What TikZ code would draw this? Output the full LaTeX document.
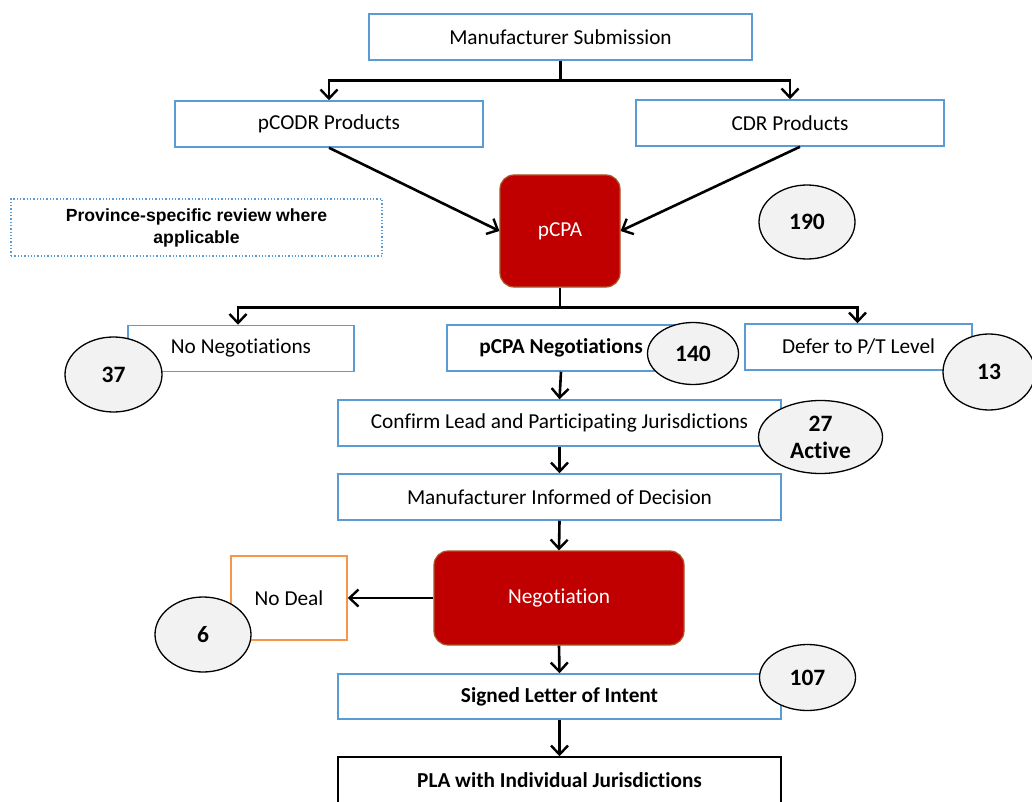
\documentclass[tikz,border=0pt]{standalone}
\usepackage{fontspec}
\setmainfont{Carlito}[Ligatures=NoCommon]
\newfontfamily\arialfont{Liberation Sans}
\usetikzlibrary{arrows.meta,shapes.geometric,calc}
\definecolor{boxblue}{RGB}{91,155,213}
\definecolor{darkred}{RGB}{192,0,0}
\definecolor{redborder}{RGB}{170,85,40}
\definecolor{ellfill}{RGB}{242,242,242}
\definecolor{dealorange}{RGB}{247,150,70}
\tikzset{
  bluebox/.style={draw=boxblue,line width=1.5pt,fill=white,rectangle,inner sep=0pt,
    font=\fontsize{21.3}{25}\selectfont},
  redbox/.style={draw=redborder,line width=1.2pt,fill=darkred,rectangle,rounded corners=14pt,
    inner sep=0pt,text=white,font=\fontsize{21.3}{25}\selectfont},
  countell/.style={draw=black,line width=1.3pt,fill=ellfill,ellipse,inner sep=0pt,
    font=\bfseries\fontsize{23.5}{25}\selectfont,align=center},
  conn/.style={line width=2.6pt,black},
  arr/.style={conn,-{Straight Barb[length=9pt,width=17pt,line width=2.4pt]}},
}
\begin{document}
\begin{tikzpicture}[x=1pt,y=-1pt]
\clip (0,0) rectangle (1032,802);
\fill[white] (0,0) rectangle (1032,802);
% boxes
\node[bluebox,minimum width=383pt,minimum height=46pt] (ms) at (560.5,37) {Manufacturer Submission};
\node[bluebox,minimum width=308pt,minimum height=46pt] (pcodr) at (329,124) {pCODR Products};
\node[bluebox,minimum width=308pt,minimum height=46pt] (cdr) at (790,123) {CDR Products};
\node[draw=boxblue,line width=1.3pt,dotted,rectangle,minimum width=371pt,minimum height=57pt,
  inner sep=0pt,align=center,font=\arialfont\bfseries\fontsize{17.6}{22}\selectfont] (prov) at (196.5,227.5)
  {Province-specific review where\\applicable};
\node[redbox,minimum width=120pt,minimum height=112pt] (pcpa) at (560,231) {pCPA};
\node[bluebox,minimum width=226pt,minimum height=46pt] (nn) at (241,348.5) {No Negotiations};
\node[bluebox,minimum width=228pt,minimum height=46pt,font=\bfseries\fontsize{21.3}{25}\selectfont]
  (pn) at (561,348) {pCPA Negotiations};
\node[bluebox,minimum width=227pt,minimum height=46pt] (defer) at (858.5,347) {Defer to P/T Level};
\node[bluebox,minimum width=443pt,minimum height=46pt] (conf) at (559.5,423) {Confirm Lead and Participating Jurisdictions};
\node[bluebox,minimum width=443pt,minimum height=46pt] (inf) at (559.5,497) {Manufacturer Informed of Decision};
\node[redbox,minimum width=250pt,minimum height=94pt] (neg) at (559,598) {Negotiation};
\node[draw=dealorange,line width=1.5pt,fill=white,rectangle,minimum width=116pt,minimum height=84pt,
  inner sep=0pt,font=\fontsize{21.3}{25}\selectfont] (nodeal) at (289,598) {No Deal};
\node[bluebox,minimum width=443pt,minimum height=45pt,font=\bfseries\fontsize{21.3}{25}\selectfont] (sig) at (559.5,696.5) {Signed Letter of Intent};
\node[draw=black,line width=1.5pt,fill=white,rectangle,minimum width=443pt,minimum height=60pt,
  inner sep=0pt] (pla) at (559.5,787) {};
\node[font=\bfseries\fontsize{21.3}{25}\selectfont] (plat) at (559.5,780) {PLA with Individual Jurisdictions};
% connectors
\draw[conn] (ms.south) -- ++(0,20) coordinate (j1);
\draw[arr] (j1) -| (pcodr.north);
\draw[arr] (j1) -| (cdr.north);
\draw[arr] (pcodr.south) -- (pcpa.west);
\draw[arr] ([xshift=10pt]cdr.south) -- (pcpa.east);
\draw[conn] (pcpa.south) -- ++(0,20) coordinate (j2);
\draw[arr] (j2) -| ([xshift=-3pt]nn.north);
\draw[arr] (j2) -| ([xshift=-1pt]defer.north);
\draw[arr] (pn.south) -- (conf.north);
\draw[arr] (conf.south) -- (inf.north);
\draw[arr] (inf.south) -- (neg.north);
\draw[arr] (neg.west) -- (nodeal.east);
\draw[arr] (neg.south) -- (sig.north);
\draw[arr] (sig.south) -- (pla.north);
% count ellipses
\node[countell,minimum width=96pt,minimum height=74pt] (e190) at (807,222) {190};
\node[countell,minimum width=97pt,minimum height=75pt] (e37) at (113.5,374.5) {37};
\node[countell,minimum width=91pt,minimum height=62pt] (e140) at (693,353.5) {140};
\node[countell,minimum width=92pt,minimum height=76pt] (e13) at (989,372) {13};
\node[countell,minimum width=124pt,minimum height=73pt,font=\bfseries\fontsize{23.5}{27}\selectfont] (e27) at (820.5,437) {27\\Active};
\node[countell,minimum width=96pt,minimum height=75pt] (e6) at (203,634.5) {6};
\node[countell,minimum width=96pt,minimum height=66pt] (e107) at (807.5,677.5) {107};
\end{tikzpicture}
\end{document}
